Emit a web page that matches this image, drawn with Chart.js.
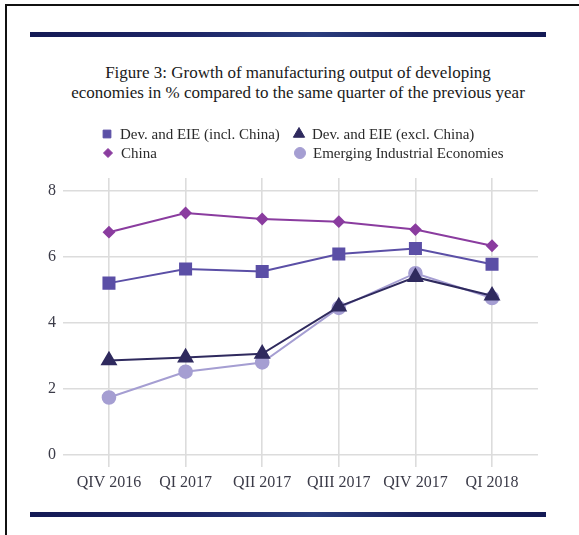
<!DOCTYPE html>
<html>
<head>
<meta charset="utf-8">
<script src="https://cdn.jsdelivr.net/npm/chart.js@4"></script>
<style>
  html, body { margin: 0; padding: 0; background: #fff; }
  #page { position: relative; width: 579px; height: 535px; overflow: hidden; }
  #frame { position: absolute; left: 5px; top: 4px; width: 600px; height: 560px;
           border-left: 2px solid #111; border-top: 2px solid #111; }
  .bar { position: absolute; left: 30px; width: 516px; height: 5px;
         background: linear-gradient(90deg, #141a55 0%, #1d2566 30%, #2a3d7e 55%, #1b2360 75%, #141a55 100%); }
  #title { position: absolute; left: 0; top: 63px; width: 596px; text-align: center;
           font: 17px "Liberation Serif", "Times New Roman", serif; color: #1a1a1a; line-height: 20px; }
  canvas { position: absolute; left: 0; top: 0; }
</style>
</head>
<body>
<div id="page">
  <div id="frame"></div>
  <div class="bar" style="top:32px"></div>
  <div class="bar" style="top:512px"></div>
  <div id="title">Figure 3: Growth of manufacturing output of developing<br>economies in % compared to the same quarter of the previous year</div>
  <canvas id="chart" width="579" height="535"></canvas>
</div>
<script>
// ----------------------------
// DATA
// ----------------------------
const quarters = ["QIV 2016", "QI 2017", "QII 2017", "QIII 2017", "QIV 2017", "QI 2018"];
const yTicks = [0, 2, 4, 6, 8];

const devInclChina = [5.2, 5.63, 5.55, 6.08, 6.25, 5.77];
const devExclChina = [2.86, 2.95, 3.06, 4.49, 5.38, 4.82];
const china = [6.74, 7.32, 7.14, 7.06, 6.82, 6.33];
const emergingEco = [1.74, 2.52, 2.8, 4.45, 5.5, 4.75];

// ----------------------------
// HELPERS
// ----------------------------
const serif = '"Liberation Serif", "Times New Roman", serif';
const toPoints = arr => arr.map((v, i) => ({ x: i, y: v }));

function series(label, values, color, style, radius, legendRadius) {
  return {
    label,
    data: toPoints(values),
    borderColor: color,
    backgroundColor: color,
    pointBackgroundColor: color,
    pointBorderColor: color,
    pointStyle: style,
    pointRadius: radius,
    pointHoverRadius: radius,
    borderWidth: 2,
    tension: 0,
    legendRadius
  };
}

// legend laid out in two fixed columns, like the original
const legendSlots = [
  { x: 107, y: 134 },
  { x: 299, y: 134 },
  { x: 108, y: 153 },
  { x: 300, y: 153 }
];

const gridLegend = {
  id: "gridLegend",
  afterDraw(c) {
    const ctx = c.ctx;
    ctx.save();
    ctx.font = "15px " + serif;
    ctx.textBaseline = "middle";
    c.data.datasets.forEach((ds, i) => {
      const s = legendSlots[i];
      ctx.fillStyle = ds.pointBackgroundColor;
      ctx.strokeStyle = ds.pointBorderColor;
      ctx.lineWidth = 1;
      Chart.helpers.drawPoint(ctx, {
        pointStyle: ds.pointStyle,
        radius: ds.legendRadius,
        borderWidth: 1,
        rotation: 0
      }, s.x, s.y);
      ctx.fillStyle = "#2a2a2a";
      ctx.fillText(ds.label, s.x + 13, s.y + 1);
    });
    ctx.restore();
  }
};

// ----------------------------
// CHART
// ----------------------------
const ctx = document.getElementById("chart").getContext("2d");

new Chart(ctx, {
  type: "line",
  data: {
    datasets: [
      series("Dev. and EIE (incl. China)", devInclChina, "#5b4fa6", "rect", 7.8, 5.5),
      series("Dev. and EIE (excl. China)", devExclChina, "#2f2a5e", "triangle", 7.8, 6.5),
      series("China", china, "#8a3c9f", "rectRot", 5, 4.5),
      series("Emerging Industrial Economies", emergingEco, "#a59ed2", "circle", 6.3, 5.5)
    ]
  },
  options: {
    responsive: false,
    animation: false,
    events: [],
    layout: { padding: { top: 178, right: 41, left: 0, bottom: 0 } },
    plugins: {
      legend: { display: false },
      tooltip: { enabled: false }
    },
    scales: {
      x: {
        type: "linear",
        min: -0.6,
        max: 5.6,
        afterBuildTicks: s => { s.ticks = quarters.map((q, i) => ({ value: i })); },
        afterFit: s => { s.height = 80; },
        border: { display: false },
        grid: { color: "#dcdcdc", lineWidth: 1.6, tickLength: 12, drawTicks: true },
        ticks: {
          autoSkip: false,
          maxRotation: 0,
          padding: 6,
          color: "#3b3b48",
          font: { family: serif, size: 16 },
          callback: v => quarters[v]
        }
      },
      y: {
        min: 0,
        max: 8.38,
        afterBuildTicks: s => { s.ticks = yTicks.map(v => ({ value: v })); },
        afterFit: s => { s.width = 63; },
        border: { display: false },
        grid: { color: "#dcdcdc", lineWidth: 1.6, drawTicks: false },
        ticks: {
          padding: 7,
          color: "#3b3b48",
          font: { family: serif, size: 16 }
        }
      }
    }
  },
  plugins: [gridLegend]
});
</script>
</body>
</html>
